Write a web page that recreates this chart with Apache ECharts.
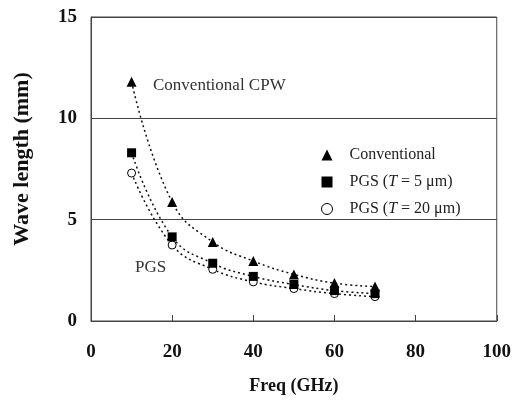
<!DOCTYPE html>
<html>
<head>
<meta charset="utf-8">
<title>Wave length vs Freq</title>
<script src="https://cdn.jsdelivr.net/npm/echarts@6/dist/echarts.min.js"></script>
<style>
  html, body { margin: 0; padding: 0; background: #fff; }
</style>
</head>
<body>
<div id="main" style="width: 514px; height: 413px;"></div>
<script type="text/javascript">
// frequencies (GHz)
var freq = [10, 20, 30, 40, 50, 60, 70];
// wave length (mm)
var conventional = [11.8, 5.87, 3.9, 2.96, 2.3, 1.87, 1.7];
var pgs5 = [8.3, 4.15, 2.85, 2.2, 1.8, 1.5, 1.35];
var pgs20 = [7.3, 3.75, 2.55, 1.93, 1.6, 1.35, 1.2];
var names = ['Conventional', 'PGS (T = 5 μm)', 'PGS (T = 20 μm)'];

function pairs(ys) {
  return freq.map(function (x, i) { return [x, ys[i]]; });
}

var serif = '"Liberation Serif", "Times New Roman", serif';
var dotted = { color: '#111', width: 1.5, type: [2, 3] };

var myChart = echarts.init(document.getElementById('main'));
var option = {
  animation: false,
  grid: {
    left: 91, top: 17, right: 16, bottom: 92,
    show: true, borderColor: '#444', borderWidth: 1
  },
  xAxis: {
    type: 'value', min: 0, max: 100, interval: 20,
    name: 'Freq (GHz)', nameLocation: 'middle', nameGap: 56,
    nameTextStyle: { fontFamily: serif, fontWeight: 'bold', fontSize: 18, color: '#111' },
    axisLine: { show: true, lineStyle: { color: '#444' } },
    axisTick: { show: true, inside: true, length: 6, lineStyle: { color: '#444' } },
    axisLabel: { margin: 22, fontFamily: serif, fontWeight: 'bold', fontSize: 19, color: '#111' },
    splitLine: { show: false }
  },
  yAxis: {
    type: 'value', min: 0, max: 15, interval: 5,
    name: 'Wave length (mm)', nameLocation: 'middle', nameGap: 58,
    nameTextStyle: {
      fontFamily: serif, fontWeight: 'bold', fontSize: 22, color: '#111',
      padding: [0, 0, 0, 20]
    },
    axisLine: { show: true, lineStyle: { color: '#444' } },
    axisTick: { show: false },
    axisLabel: { margin: 14, fontFamily: serif, fontWeight: 'bold', fontSize: 19, color: '#111' },
    splitLine: { show: true, lineStyle: { color: '#444', width: 1 } }
  },
  legend: {
    orient: 'vertical', left: 316, top: 142, itemGap: 11,
    itemWidth: 11, itemHeight: 11,
    textStyle: {
      fontFamily: serif, fontSize: 16, color: '#222', padding: [0, 0, 0, 12],
      rich: { i: { fontFamily: serif, fontSize: 16, fontStyle: 'italic', color: '#222' } }
    },
    formatter: function (n) {
      return n.replace('T =', '{i|T} =');
    },
    data: [
      { name: names[0], icon: 'triangle', itemStyle: { color: '#000' } },
      { name: names[1], icon: 'rect', itemStyle: { color: '#000' } },
      { name: names[2], icon: 'circle', itemStyle: { color: '#fff', borderColor: '#000', borderWidth: 1 } }
    ]
  },
  graphic: [
    { type: 'text', left: 153, top: 77,
      style: { text: 'Conventional CPW', font: '17px ' + serif, fill: '#333' } },
    { type: 'text', left: 135, top: 259,
      style: { text: 'PGS', font: '17px ' + serif, fill: '#333' } }
  ],
  series: [
    {
      name: names[2], type: 'line', data: pairs(pgs20), smooth: 0.45,
      symbol: 'circle', symbolSize: 8,
      itemStyle: { color: '#fff', borderColor: '#000', borderWidth: 1 },
      lineStyle: dotted, z: 2
    },
    {
      name: names[1], type: 'line', data: pairs(pgs5), smooth: 0.45,
      symbol: 'rect', symbolSize: 9,
      itemStyle: { color: '#000' },
      lineStyle: dotted, z: 3
    },
    {
      name: names[0], type: 'line', data: pairs(conventional), smooth: 0.45,
      symbol: 'triangle', symbolSize: 10,
      itemStyle: { color: '#000' },
      lineStyle: dotted, z: 4
    }
  ]
};
myChart.setOption(option);
</script>
</body>
</html>
